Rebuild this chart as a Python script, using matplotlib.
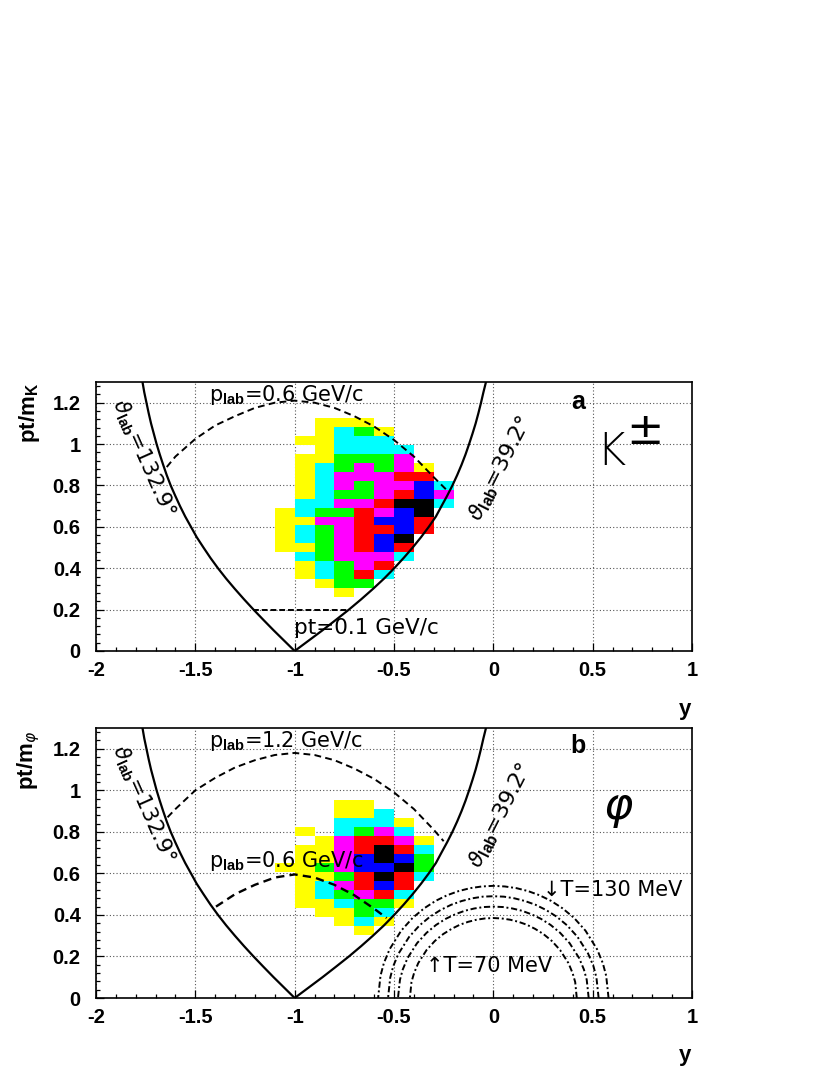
import numpy as np
import matplotlib
matplotlib.use('Agg')
import matplotlib.pyplot as plt
from matplotlib.colors import ListedColormap, BoundaryNorm

plt.rcParams['font.family'] = ['Liberation Sans', 'DejaVu Sans']
plt.rcParams['mathtext.fontset'] = 'custom'
plt.rcParams['mathtext.rm'] = 'DejaVu Sans'
plt.rcParams['mathtext.bf'] = 'Liberation Sans:bold'
plt.rcParams['mathtext.it'] = 'DejaVu Sans:italic'

# colour levels: 0 empty, 1 yellow ... 7 black
kaon_levels = [
    [0, 0, 1, 1, 1, 0, 0, 0, 0],
    [0, 0, 1, 2, 3, 1, 0, 0, 0],
    [0, 1, 1, 2, 2, 2, 0, 0, 0],
    [0, 0, 1, 2, 2, 2, 2, 0, 0],
    [0, 1, 1, 3, 3, 3, 4, 0, 0],
    [0, 1, 2, 3, 4, 3, 4, 1, 0],
    [0, 1, 2, 4, 4, 4, 5, 5, 0],
    [0, 1, 2, 4, 3, 4, 4, 6, 2],
    [0, 1, 2, 3, 3, 4, 5, 6, 4],
    [0, 2, 2, 4, 4, 5, 7, 7, 2],
    [1, 2, 3, 3, 5, 4, 6, 7, 0],
    [1, 1, 4, 4, 5, 6, 6, 5, 0],
    [1, 2, 3, 4, 5, 5, 6, 5, 0],
    [1, 2, 3, 4, 5, 6, 7, 0, 0],
    [1, 1, 3, 4, 5, 6, 5, 0, 0],
    [0, 2, 3, 4, 4, 4, 2, 0, 0],
    [0, 1, 2, 3, 4, 5, 0, 0, 0],
    [0, 1, 2, 3, 5, 2, 0, 0, 0],
    [0, 0, 1, 3, 3, 0, 0, 0, 0],
    [0, 0, 0, 1, 0, 0, 0, 0, 0],
]
kaon_top_bin = 26

phi_levels = [
    [0, 0, 0, 1, 1, 0, 0, 0],
    [0, 0, 0, 1, 1, 2, 0, 0],
    [0, 0, 0, 2, 2, 2, 1, 0],
    [0, 1, 0, 2, 3, 4, 2, 0],
    [0, 0, 1, 4, 5, 5, 4, 1],
    [0, 1, 1, 4, 5, 7, 5, 2],
    [0, 1, 1, 4, 6, 7, 6, 3],
    [1, 1, 3, 4, 6, 6, 7, 3],
    [0, 1, 1, 3, 5, 7, 5, 2],
    [0, 1, 2, 4, 5, 6, 5, 0],
    [0, 1, 2, 3, 4, 5, 2, 0],
    [0, 1, 1, 2, 3, 3, 1, 0],
    [0, 0, 1, 1, 3, 2, 0, 0],
    [0, 0, 0, 1, 2, 1, 0, 0],
    [0, 0, 0, 0, 1, 0, 0, 0],
]
phi_top_bin = 22

level_colors = ['#ffff00', '#00ffff', '#00ff00', '#ff00ff', '#ff0000', '#0000ff', '#000000']

# acceptance edges
edge_pt = [0, .05, .1, .15, .2, .25, .3, .35, .4, .45, .5, .55, .6, .65, .7, .75, .8, .85, .9, .95,
           1.0, 1.05, 1.1, 1.15, 1.2, 1.25, 1.3]
theta39_y = [-1, -.930, -.860, -.793, -.727, -.665, -.606, -.550, -.499, -.451, -.406, -.364, -.325,
             -.289, -.261, -.2325, -.206, -.182, -.160, -.140, -.122, -.105, -.089, -.075, -.062, -.050, -.037]
theta133_y = [-1, -1.053, -1.106, -1.157, -1.207, -1.255, -1.301, -1.345, -1.386, -1.424, -1.459, -1.493,
              -1.522, -1.551, -1.577, -1.601, -1.624, -1.644, -1.662, -1.679, -1.695, -1.709, -1.723,
              -1.735, -1.746, -1.757, -1.766]

# momentum cuts
plab_a_y = [-1.644, -1.6, -1.5, -1.4, -1.3, -1.2, -1.1, -1.0, -.9, -.8, -.7, -.6, -.5, -.4, -.3, -.235]
plab_a_pt = [.889, .94, 1.025, 1.09, 1.135, 1.175, 1.2, 1.21, 1.2, 1.175, 1.135, 1.085, 1.02, .94, .84, .778]
pt_cut_y = [-1.21, -0.73]
pt_cut_pt = [0.2, 0.2]
plab_hi_y = [-1.64, -1.6, -1.5, -1.4, -1.3, -1.2, -1.1, -1.0, -.9, -.8, -.7, -.6, -.5, -.4, -.3, -.25]
plab_hi_pt = [.87, .91, 1.0, 1.06, 1.11, 1.145, 1.17, 1.18, 1.17, 1.145, 1.105, 1.055, .99, .91, .81, .755]
plab_lo_y = [-1.396, -1.3, -1.2, -1.1, -1.0, -.9, -.8, -.7, -.6, -.537]
plab_lo_pt = [.44, .5, .545, .58, .595, .58, .545, .495, .43, .385]

# thermal contours, right half only
t130_y = [.58, .568, .551, .522, .464, .406, .348, .29, .232, .174, .116, .058, 0]
t130_pt = [0, .107, .168, .235, .324, .386, .432, .468, .495, .515, .529, .537, .54]
t110_y = [.53, .519, .504, .477, .424, .371, .318, .265, .212, .159, .106, .053, 0]
t110_pt = [0, .098, .153, .214, .294, .35, .392, .424, .449, .467, .48, .488, .49]
t90_y = [.48, .47, .456, .432, .384, .336, .288, .24, .192, .144, .096, .048, 0]
t90_pt = [0, .088, .137, .192, .264, .314, .352, .381, .403, .42, .431, .438, .44]
t70_y = [.42, .412, .399, .378, .336, .294, .252, .21, .168, .126, .084, .042, 0]
t70_pt = [0, .077, .12, .168, .231, .275, .308, .333, .353, .367, .377, .383, .385]

x_ticks = [-2, -1.5, -1, -0.5, 0, 0.5, 1]
x_tick_labels = ['-2', '-1.5', '-1', '-0.5', '0', '0.5', '1']
y_ticks = [0, 0.2, 0.4, 0.6, 0.8, 1.0, 1.2]
y_tick_labels = ['0', '0.2', '0.4', '0.6', '0.8', '1', '1.2']

bin_w = 1.3 / 30
cmap = ListedColormap(level_colors)
norm = BoundaryNorm(np.arange(0.5, 8.5), cmap.N)
W, H = 830, 1075


def draw_levels(ax, levels, top_bin):
    arr = np.array(levels, dtype=float)[::-1]
    arr = np.ma.masked_equal(arr, 0)
    n_rows, n_cols = arr.shape
    xe = -1.1 + 0.1 * np.arange(n_cols + 1)
    ye = (top_bin - n_rows + np.arange(n_rows + 1)) * bin_w
    ax.pcolormesh(xe, ye, arr, cmap=cmap, norm=norm, antialiased=False, zorder=1.5)


def style_axes(ax):
    ax.set_xlim(-2, 1)
    ax.set_ylim(0, 1.3)
    ax.set_xticks(x_ticks)
    ax.set_xticklabels(x_tick_labels)
    ax.set_yticks(y_ticks)
    ax.set_yticklabels(y_tick_labels)
    ax.set_xticks(np.arange(-2, 1.01, 0.1), minor=True)
    ax.set_yticks(np.arange(0, 1.3, 0.04), minor=True)
    ax.tick_params(which='major', direction='in', length=6, width=0.9, labelsize=14.5)
    ax.tick_params(which='minor', direction='in', length=3, width=0.9)
    ax.tick_params(axis='x', which='major', pad=7)
    ax.tick_params(axis='y', which='major', pad=11)
    for lab in ax.get_xticklabels() + ax.get_yticklabels():
        lab.set_fontweight('bold')
    ax.grid(True, which='major', color='#555555', linestyle=(0, (1, 2)), linewidth=0.8)
    ax.set_axisbelow(True)
    for s in ax.spines.values():
        s.set_linewidth(1.2)


def draw_edges(ax):
    ax.plot(theta39_y, edge_pt, color='k', lw=1.6, zorder=3)
    ax.plot(theta133_y, edge_pt, color='k', lw=1.6, zorder=3)


def add_axes_px(left, right, top, bottom):
    return fig.add_axes([left / W, 1 - bottom / H, (right - left) / W, (bottom - top) / H])


def label(ax, x, y, s, size=15, rot=0):
    ax.text(x, y, s, fontsize=size, family='DejaVu Sans', rotation=rot,
            rotation_mode='anchor', ha='left', va='baseline', zorder=5, clip_on=False)


plab = r'p$_{\mathbf{lab}}$'
theta = r'$\vartheta_{\mathbf{lab}}$'

fig = plt.figure(figsize=(W / 100, H / 100), dpi=100)

# top panel
ax1 = add_axes_px(96, 692, 382, 651)
style_axes(ax1)
draw_levels(ax1, kaon_levels, kaon_top_bin)
draw_edges(ax1)
ax1.plot(plab_a_y, plab_a_pt, color='k', lw=1.4, linestyle=(0, (3.5, 2.2)), zorder=3)
ax1.plot(pt_cut_y, pt_cut_pt, color='k', lw=1.4, linestyle=(0, (3, 1.5)), zorder=3)
label(ax1, -1.43, 1.21, plab + '=0.6 GeV/c')
label(ax1, -1.005, 0.08, 'pt=0.1 GeV/c', size=15.5)
label(ax1, -1.92, 1.2, theta + '=132.9°', size=15.5, rot=-66)
label(ax1, -0.065, 0.62, theta + '=39.2°', size=16, rot=63)
ax1.text(0.39, 1.17, 'a', fontsize=18, fontweight='bold', ha='left', va='baseline')
ax1.text(0.52, 0.90, 'K', fontsize=32, family='DejaVu Sans', fontweight='light', ha='left', va='baseline')
ax1.text(0.67, 1.0, '±', fontsize=32, family='DejaVu Sans', ha='left', va='baseline')

# bottom panel
ax2 = add_axes_px(96, 692, 728, 998)
style_axes(ax2)
draw_levels(ax2, phi_levels, phi_top_bin)
draw_edges(ax2)
ax2.plot(plab_hi_y, plab_hi_pt, color='k', lw=1.4, linestyle=(0, (3.5, 2.2)), zorder=3)
ax2.plot(plab_lo_y, plab_lo_pt, color='k', lw=1.7, linestyle=(0, (3.5, 2.2)), zorder=3)
for ty, tp in [(t130_y, t130_pt), (t110_y, t110_pt), (t90_y, t90_pt), (t70_y, t70_pt)]:
    ty = np.array(ty)
    tp = np.array(tp)
    ax2.plot(np.concatenate([ty, -ty[::-1]]), np.concatenate([tp, tp[::-1]]), color='k', lw=1.4,
             linestyle=(0, (3.2, 1.4, 1, 1.4)), zorder=3)
label(ax2, -1.43, 1.21, plab + '=1.2 GeV/c')
label(ax2, -1.43, 0.63, plab + '=0.6 GeV/c')
label(ax2, -1.92, 1.2, theta + '=132.9°', size=15.5, rot=-66)
label(ax2, -0.065, 0.62, theta + '=39.2°', size=16, rot=63)
label(ax2, 0.25, 0.49, '↓T=130 MeV')
label(ax2, -0.34, 0.125, '↑T=70 MeV')
ax2.text(0.39, 1.18, 'b', fontsize=18, fontweight='bold', ha='left', va='baseline')
ax2.text(0.55, 0.86, r'$\varphi$', fontsize=32, ha='left', va='baseline')

# outer labels
fig.text(29 / W, 1 - 413 / H, r'pt/m$_{\mathbf{K}}$', fontsize=16, fontweight='bold', rotation=90, ha='center', va='center')
fig.text(29 / W, 1 - 760 / H, r'pt/m$_{\varphi}$', fontsize=16, fontweight='bold', rotation=90, ha='center', va='center')
fig.text(685 / W, 1 - 709 / H, 'y', fontsize=16, fontweight='bold', ha='center', va='center')
fig.text(685 / W, 1 - 1055 / H, 'y', fontsize=16, fontweight='bold', ha='center', va='center')

fig.savefig('out.png', dpi=100)
